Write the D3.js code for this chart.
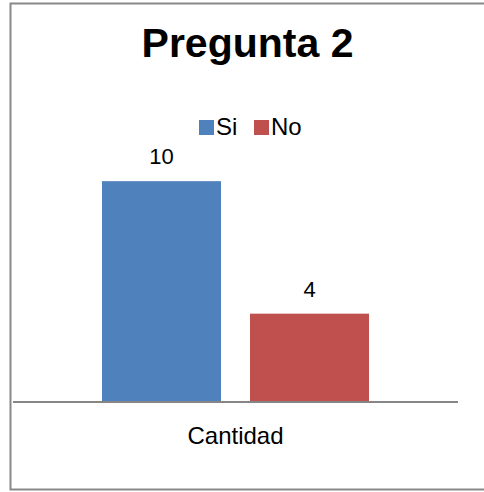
<!DOCTYPE html>
<html>
<head>
<meta charset="utf-8">
<script src="https://cdn.jsdelivr.net/npm/d3@7"></script>
<style>
  body { margin: 0; background: #fff; }
  text { font-family: "Liberation Sans", Arial, sans-serif; fill: #000; }
</style>
</head>
<body>
<div id="chart"></div>
<script>
  // chart data
  var title = "Pregunta 2";
  var categories = ["Cantidad"];
  var series = ["Si", "No"];
  var values = [10, 4];
  var colors = ["#4F81BD", "#C0504D"];

  var width = 484, height = 492;

  var svg = d3.select("#chart")
    .append("svg")
    .attr("width", width)
    .attr("height", height);

  // outer frame (right edge falls off the picture)
  svg.append("rect")
    .attr("x", 10.5)
    .attr("y", 3.5)
    .attr("width", 480)
    .attr("height", 486)
    .attr("fill", "#fff")
    .attr("stroke", "#888")
    .attr("stroke-width", 2);

  svg.append("text")
    .attr("x", 247.5)
    .attr("y", 57)
    .attr("text-anchor", "middle")
    .style("font-size", "41px")
    .style("font-weight", "bold")
    .text(title);

  // legend
  var legend = svg.append("g").attr("class", "legend");
  var legendX = [199, 254];
  series.forEach(function(s, i){
    legend.append("rect")
      .attr("x", legendX[i])
      .attr("y", 120)
      .attr("width", 15)
      .attr("height", 15)
      .attr("fill", colors[i]);
    legend.append("text")
      .attr("x", legendX[i] + 17)
      .attr("y", 135)
      .style("font-size", "24px")
      .text(s);
  });

  var x0 = d3.scaleBand()
    .domain(categories)
    .range([13, 458])
    .padding(0.25);

  var x1 = d3.scaleBand()
    .domain(series)
    .range([0, x0.bandwidth()])
    .paddingInner(0.196);

  var y = d3.scaleLinear()
    .domain([0, 12])
    .range([402, 137]);

  var groups = svg.selectAll(".group")
    .data(categories)
    .enter()
    .append("g")
    .attr("class", "group")
    .attr("transform", function(d){ return "translate(" + x0(d) + ",0)"; });

  var bars = groups.selectAll(".bar")
    .data(series.map(function(s, i){ return {key: s, value: values[i], color: colors[i]}; }))
    .enter();

  bars.append("rect")
    .attr("class", "bar")
    .attr("x", function(d){ return x1(d.key); })
    .attr("y", function(d){ return y(d.value); })
    .attr("width", x1.bandwidth())
    .attr("height", function(d){ return y(0) - y(d.value); })
    .attr("fill", function(d){ return d.color; });

  bars.append("text")
    .attr("x", function(d){ return x1(d.key) + x1.bandwidth() / 2; })
    .attr("y", function(d){ return y(d.value) - 17; })
    .attr("text-anchor", "middle")
    .style("font-size", "22px")
    .text(function(d){ return d.value; });

  // category axis
  var axis = svg.append("g")
    .attr("transform", "translate(0," + y(0) + ")")
    .call(d3.axisBottom(x0).tickSize(0).tickPadding(25));

  axis.select(".domain")
    .attr("stroke", "#868686")
    .attr("stroke-width", 2)
    .attr("d", "M13,0H458");

  axis.selectAll("text")
    .style("font-size", "24px")
    .style("font-family", '"Liberation Sans", Arial, sans-serif')
    .attr("fill", "#000");
</script>
</body>
</html>
